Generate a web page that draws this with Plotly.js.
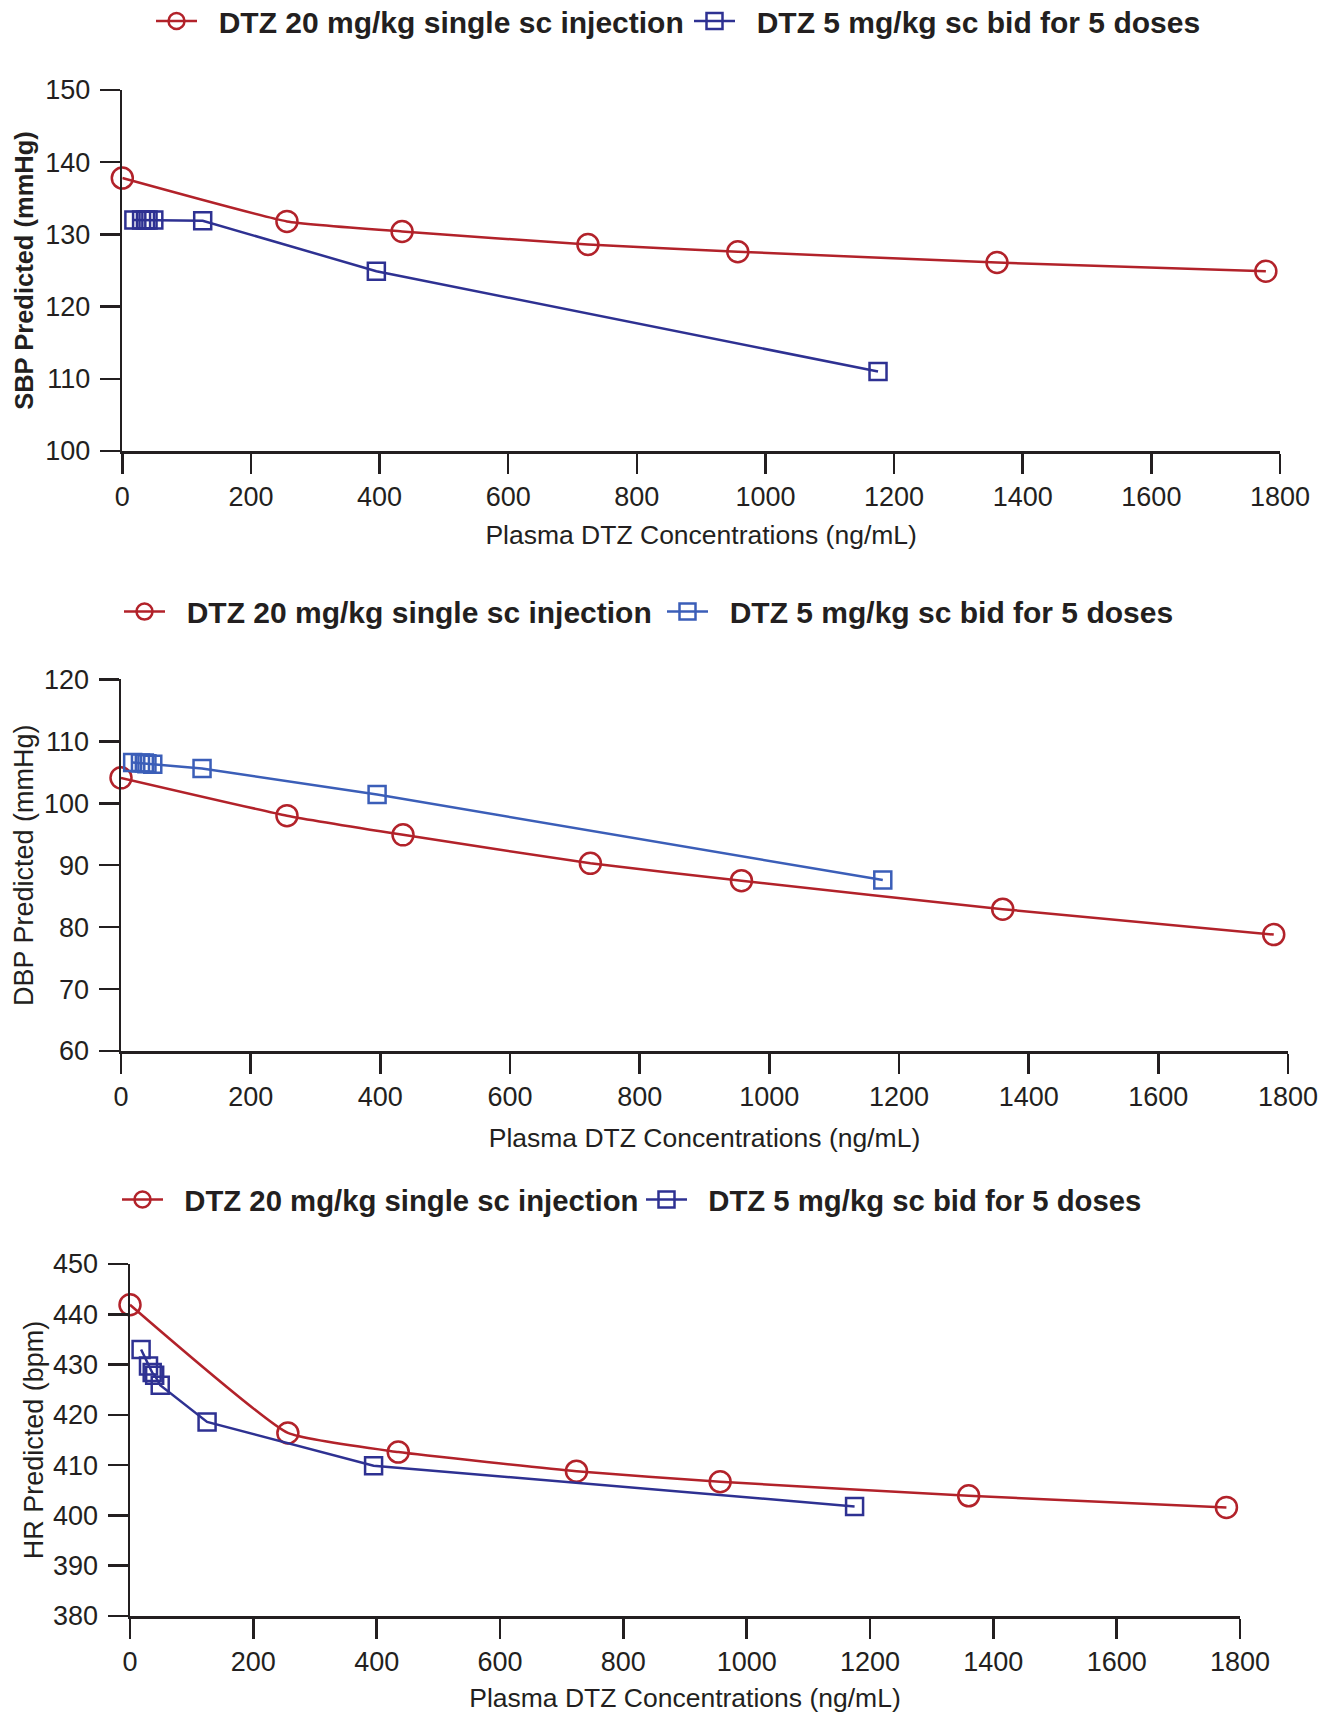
<!DOCTYPE html>
<html>
<head>
<meta charset="utf-8">
<script src="https://cdn.plot.ly/plotly-3.0.1.min.js"></script>
<style>
  html, body { margin: 0; padding: 0; background: #ffffff; }
  #chart { width: 1328px; height: 1714px; }
</style>
</head>
<body>
<div id="chart"></div>
<script>
// ---- data ----
var seriesNames = ["DTZ 20 mg/kg single sc injection", "DTZ 5 mg/kg sc bid for 5 doses"];
var singleConc = [0, 256, 435, 724, 957, 1360, 1778];
var bidConc = [18, 30, 36, 40, 49, 125, 395, 1175];

var sbpSingle = [137.8, 131.8, 130.4, 128.6, 127.6, 126.1, 124.9];
var sbpBid = [132, 132, 132, 132, 132, 131.9, 124.9, 111.0];

var dbpSingle = [104.1, 98.0, 94.9, 90.3, 87.5, 82.9, 78.8];
var dbpBid = [106.6, 106.5, 106.5, 106.4, 106.3, 105.6, 101.4, 87.6];

var hrSingle = [441.9, 416.4, 412.6, 408.8, 406.7, 403.9, 401.6];
var hrBid = [433.0, 429.7, 428.4, 427.9, 425.9, 418.6, 409.9, 401.8];

var xTicks = [0, 200, 400, 600, 800, 1000, 1200, 1400, 1600, 1800];
var sbpTicks = [100, 110, 120, 130, 140, 150];
var dbpTicks = [60, 70, 80, 90, 100, 110, 120];
var hrTicks = [380, 390, 400, 410, 420, 430, 440, 450];

var yTitles = ["SBP Predicted (mmHg)", "DBP Predicted (mmHg)", "HR Predicted (bpm)"];
var xTitle = "Plasma DTZ Concentrations (ng/mL)";

// ---- styling ----
var W = 1328, H = 1714;
var INK = "#231f20";
var RED = "#b2222a";
var NAVY = "#2e3192";
var BLUE2 = "#3b5eb8";
var FONT = "Liberation Sans, Arial, Helvetica, sans-serif";
var GAP = "\u00a0\u00a0";

function px(x) { return x / W; }
function py(y) { return 1 - y / H; }

var panels = [
  {x0: 122.3, x1: 1280, y0: 90, y1: 451, yr: [100, 150], ticks: sbpTicks, single: sbpSingle, bid: sbpBid, blue: NAVY, bold: true,
   ytStand: 5, xtStand: 15, leg1: [151, 21], leg2: [689, 21], legSize: 30},
  {x0: 121, x1: 1288, y0: 679.4, y1: 1051, yr: [60, 120], ticks: dbpTicks, single: dbpSingle, bid: dbpBid, blue: BLUE2, bold: false,
   ytStand: 3, xtStand: 18, leg1: [119, 611.6], leg2: [662, 611.6], legSize: 30},
  {x0: 130, x1: 1240, y0: 1264, y1: 1616, yr: [380, 450], ticks: hrTicks, single: hrSingle, bid: hrBid, blue: NAVY, bold: false,
   ytStand: 2, xtStand: 13, leg1: [117, 1200], leg2: [641, 1200], legSize: 29.3}
];

var data = [];
var layout = {
  width: W, height: H,
  margin: {l: 0, r: 0, t: 0, b: 0, autoexpand: false},
  paper_bgcolor: "#ffffff",
  plot_bgcolor: "#ffffff",
  font: {family: FONT, color: INK, size: 27},
  showlegend: true
};

panels.forEach(function (p, i) {
  var n = i + 1;
  var xa = n === 1 ? "x" : "x" + n;
  var ya = n === 1 ? "y" : "y" + n;
  var xk = n === 1 ? "xaxis" : "xaxis" + n;
  var yk = n === 1 ? "yaxis" : "yaxis" + n;
  var l1 = "legend" + (i === 0 ? "" : (2 * i + 1));
  var l2 = "legend" + (2 * i + 2);

  data.push({
    type: "scatter", mode: "lines+markers", name: GAP + seriesNames[0],
    x: singleConc, y: p.single, xaxis: xa, yaxis: ya, legend: l1,
    line: {color: RED, width: 2.5, shape: "spline", smoothing: 0.4},
    marker: {symbol: "circle-open", size: 21, color: RED, line: {color: RED, width: 2.5}},
    cliponaxis: false
  });
  data.push({
    type: "scatter", mode: "lines+markers", name: GAP + seriesNames[1],
    x: bidConc, y: p.bid, xaxis: xa, yaxis: ya, legend: l2,
    line: {color: p.blue, width: 2.5},
    marker: {symbol: "square-open", size: 17, color: p.blue, line: {color: p.blue, width: 2.5}},
    cliponaxis: false
  });

  layout[xk] = {
    domain: [px(p.x0), px(p.x1)],
    anchor: ya,
    range: [0, 1800],
    tickmode: "array", tickvals: xTicks,
    showgrid: false, zeroline: false,
    showline: true, linecolor: INK, linewidth: 2.5,
    ticks: "outside", ticklen: 20, tickwidth: 2.5, tickcolor: INK,
    tickfont: {family: FONT, size: 27, color: INK},
    title: {text: xTitle, font: {family: FONT, size: 26.5, color: INK}, standoff: p.xtStand}
  };
  layout[yk] = {
    domain: [py(p.y1), py(p.y0)],
    anchor: xa,
    range: p.yr,
    tickmode: "array", tickvals: p.ticks,
    showgrid: false, zeroline: false,
    showline: true, linecolor: INK, linewidth: 2.5,
    ticks: "outside", ticklen: 20, tickwidth: 2.5, tickcolor: INK,
    ticklabelstandoff: 4,
    tickfont: {family: FONT, size: 27, color: INK},
    title: {text: p.bold ? "<b>" + yTitles[i] + "</b>" : yTitles[i],
            font: {family: FONT, size: p.bold ? 25.5 : 27, color: INK}, standoff: p.ytStand}
  };

  var legBase = {
    orientation: "h", xanchor: "left", yanchor: "middle",
    itemwidth: 41, bgcolor: "rgba(0,0,0,0)", borderwidth: 0,
    font: {family: FONT, size: p.legSize, color: INK, weight: "bold"}
  };
  layout[l1] = Object.assign({}, legBase, {x: px(p.leg1[0]), y: py(p.leg1[1])});
  layout[l2] = Object.assign({}, legBase, {x: px(p.leg2[0]), y: py(p.leg2[1])});
});

Plotly.newPlot("chart", data, layout, {staticPlot: true});
</script>
</body>
</html>
